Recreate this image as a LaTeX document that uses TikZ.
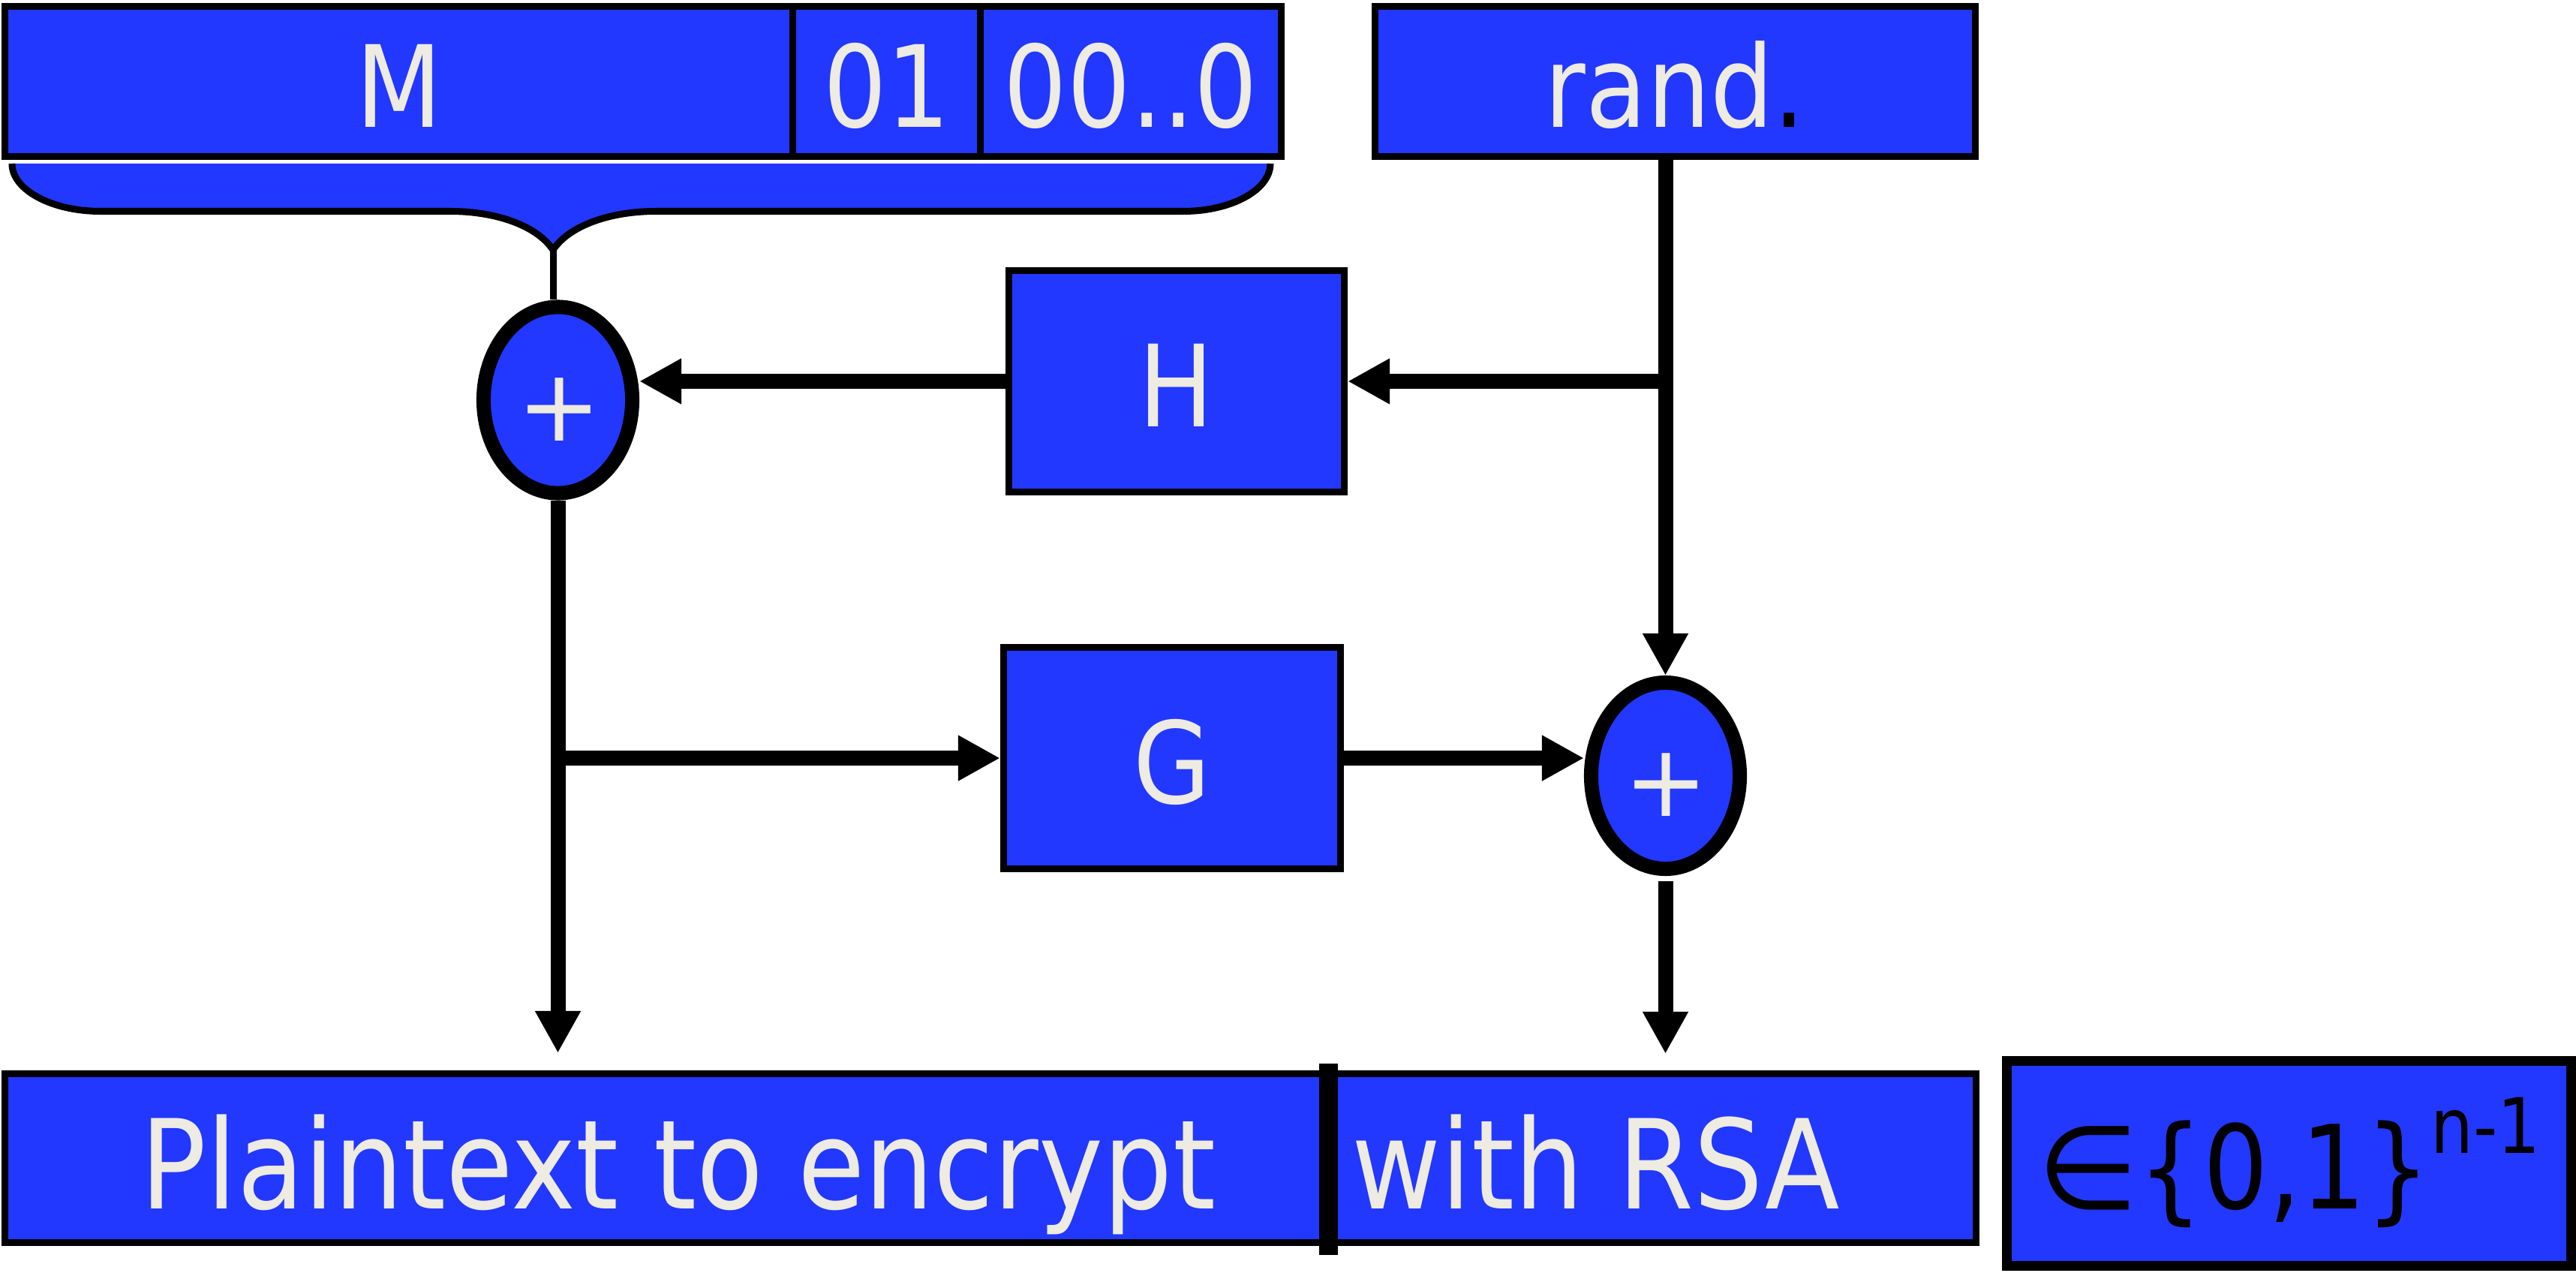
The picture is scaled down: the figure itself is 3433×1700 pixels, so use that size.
\documentclass[tikz,border=0pt]{standalone}
\usepackage{fontspec}
\newfontfamily\df[FakeStretch=0.88]{DejaVu Sans}
\newfontfamily\dfplain{DejaVu Sans}
\usetikzlibrary{arrows.meta,shapes.geometric}
\definecolor{bblue}{RGB}{34,56,255}
\definecolor{offw}{RGB}{238,235,226}
\begin{document}
\begin{tikzpicture}[x=0.01cm,y=-0.01cm,
  cell/.style={draw=black, fill=bblue, line width=0.09cm, inner sep=0pt, text=offw,
    font=\df\fontsize{43}{50}\selectfont, text height=1.21cm, text depth=0pt},
  ring/.style={ellipse, draw=black, fill=bblue, line width=0.19cm, inner sep=0pt,
    minimum width=1.98cm, minimum height=2.48cm},
  plus/.style={text=offw, font=\dfplain\fontsize{38}{40}\selectfont, inner sep=0pt},
  arr/.style={line width=0.2cm, -{Triangle[length=0.56cm,width=0.57cm]}},
  btxt/.style={text=offw, font=\df\fontsize{47}{52}\selectfont, inner sep=0pt, anchor=base}
]
\useasboundingbox (0,0) rectangle (3433,1700);

% top row
\node[cell, minimum width=10.505cm, minimum height=2cm] (m) at (531.75,108.5) {M};
\node[cell, minimum width=2.5cm, minimum height=2cm] (z1) at (1182,108.5) {01};
\node[cell, minimum width=4.005cm, minimum height=2cm] (z2) at (1507.25,108.5) {00..0};
\node[cell, minimum width=8cm, minimum height=2cm] (rand) at (2232.5,108.5) {rand{\color{black}.}};

% brace
\coordinate (cusp) at (737,333);
\fill[bblue] (16,218) .. controls (16,253) and (69,281.5) .. (134,281.5) -- (600,281.5)
  .. controls (660,281.5) and (715,300) .. (cusp)
  .. controls (759,300) and (814,281.5) .. (874,281.5) -- (1577,281.5)
  .. controls (1641,281.5) and (1693,253) .. (1693,218) -- cycle;
\draw[line width=0.09cm] (16,218) .. controls (16,253) and (69,281.5) .. (134,281.5) -- (600,281.5)
  .. controls (660,281.5) and (715,300) .. (cusp)
  .. controls (759,300) and (814,281.5) .. (874,281.5) -- (1577,281.5)
  .. controls (1641,281.5) and (1693,253) .. (1693,218);

% middle
\node[cell, minimum width=4.47cm, minimum height=2.95cm] (H) at (1568,508) {H};
\node[cell, minimum width=4.49cm, minimum height=2.95cm] (G) at (1562,1010) {G};
\node[ring] (e1) at (743.5,533) {};
\node[ring] (e2) at (2219.5,1033.5) {};
\node[plus] (p1) at (745,546) {+};
\node[plus] (p2) at (2220,1046) {+};

% bottom
\node[cell, minimum width=26.25cm, minimum height=2.25cm] (out) at (1320,1543) {};
\node[btxt] (ptxt) at (904,1610) {Plaintext to encrypt};
\node[btxt] (rtxt) at (2127,1610) {with RSA};
\coordinate (d1) at (1770,1417);
\coordinate (d2) at (1770,1672);
\draw[line width=0.25cm] (d1) -- (d2);
\node[cell, line width=0.135cm, minimum width=7.515cm, minimum height=2.725cm, text=black,
  font=\df\fontsize{44}{50}\selectfont, text height=1.2cm] (set) at (3050.5,1550)
  {{\dfplain ∈}\{0,1\}\raisebox{0.74cm}{\fontsize{29}{30}\selectfont n-1}};

% connectors
\draw[line width=0.09cm] (cusp) -- (cusp |- e1.north);
\draw[arr] (e2.north |- rand.south) -- (e2.north);
\coordinate (j1) at (e2.north |- H.east);
\draw[arr] (j1) -- (H.east);
\draw[arr] (H.west) -- (H.west -| e1.east);
\draw[arr, shorten >=0.23cm] (e1.south) -- (e1.south |- out.north);
\coordinate (j2) at (e1.south |- G.west);
\draw[arr] (j2) -- (G.west);
\draw[arr] (G.east) -- (G.east -| e2.west);
\draw[arr, shorten <=0.07cm, shorten >=0.22cm] (e2.south) -- (e2.south |- out.north);
\end{tikzpicture}
\end{document}
